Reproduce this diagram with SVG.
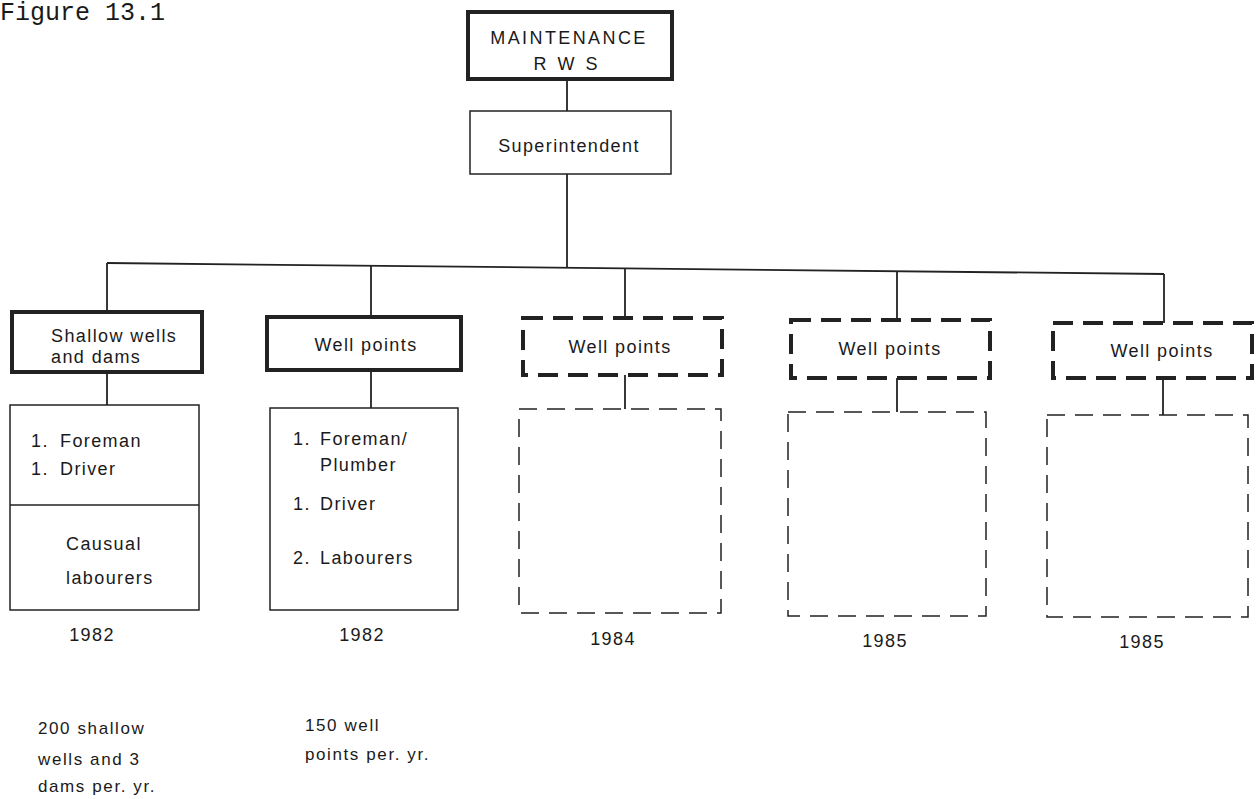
<svg xmlns="http://www.w3.org/2000/svg" width="1259" height="799" viewBox="0 0 1259 799">
<style>
.t{font-family:"Liberation Sans",Arial,sans-serif;font-size:18px;letter-spacing:1.4px;fill:#1a1a1a}
.s{font-family:"Liberation Sans",Arial,sans-serif;font-size:17px;letter-spacing:1.6px;fill:#1a1a1a}
.m{font-family:"Liberation Mono","Courier New",monospace;font-size:25px;fill:#1a1a1a}
.thick{fill:#fff;stroke:#222;stroke-width:4}
.thin{fill:#fff;stroke:#222;stroke-width:1.5}
.dthick{fill:#fff;stroke:#222;stroke-width:4;stroke-dasharray:20 10}
.dthin{fill:#fff;stroke:#222;stroke-width:1.5;stroke-dasharray:18 10}
.c{stroke:#222;stroke-width:1.8;fill:none}
</style>
<rect width="1259" height="799" fill="#fff"/>
<text class="m" x="0" y="20">Figure 13.1</text>
<g id="connectors">
<line class="c" x1="567" y1="79" x2="567" y2="111"/>
<line class="c" x1="567" y1="174" x2="567" y2="268"/>
<line class="c" x1="107" y1="263" x2="1164" y2="274"/>
<line class="c" x1="107" y1="263" x2="107" y2="312"/>
<line class="c" x1="371" y1="266" x2="371" y2="317"/>
<line class="c" x1="625" y1="268" x2="625" y2="318"/>
<line class="c" x1="897" y1="271" x2="897" y2="320"/>
<line class="c" x1="1164" y1="274" x2="1164" y2="323"/>
<line class="c" x1="107" y1="372" x2="107" y2="405"/>
<line class="c" x1="371" y1="370" x2="371" y2="408"/>
<line class="c" x1="625" y1="375" x2="625" y2="409"/>
<line class="c" x1="897" y1="378" x2="897" y2="412"/>
<line class="c" x1="1163" y1="378" x2="1163" y2="415"/>
</g>
<g id="maintenance">
<rect class="thick" x="468" y="12" width="204" height="67"/>
<text class="t" x="569" y="44" text-anchor="middle" style="letter-spacing:2.4px">MAINTENANCE</text>
<text class="t" x="567" y="70" text-anchor="middle" style="letter-spacing:3px">R W S</text>
</g>
<g id="superintendent">
<rect class="thin" x="470" y="111" width="201" height="63"/>
<text class="t" x="569" y="152" text-anchor="middle">Superintendent</text>
</g>
<g id="shallow">
<rect class="thick" x="12" y="312" width="190" height="60"/>
<text class="t" x="51" y="342">Shallow wells</text>
<text class="t" x="51" y="363">and dams</text>
</g>
<g id="shallow-staff">
<rect class="thin" x="10" y="405" width="189" height="205"/>
<line class="c" x1="10" y1="505" x2="199" y2="505" style="stroke-width:1.5"/>
<text class="t" x="31" y="447">1.</text><text class="t" x="60" y="447">Foreman</text>
<text class="t" x="31" y="475">1.</text><text class="t" x="60" y="475">Driver</text>
<text class="t" x="66" y="550">Causual</text>
<text class="t" x="66" y="584">labourers</text>
<text class="t" x="92" y="641" text-anchor="middle">1982</text>
</g>
<g id="wellpoints1">
<rect class="thick" x="267" y="317" width="194" height="53"/>
<text class="t" x="366" y="351" text-anchor="middle">Well points</text>
</g>
<g id="wellpoints1-staff">
<rect class="thin" x="270" y="408" width="188" height="202"/>
<text class="t" x="293" y="445">1.</text><text class="t" x="320" y="445">Foreman/</text>
<text class="t" x="320" y="471">Plumber</text>
<text class="t" x="293" y="510">1.</text><text class="t" x="320" y="510">Driver</text>
<text class="t" x="293" y="564">2.</text><text class="t" x="320" y="564">Labourers</text>
<text class="t" x="362" y="641" text-anchor="middle">1982</text>
</g>
<g id="wellpoints2">
<rect class="dthick" x="523" y="318" width="199" height="57"/>
<text class="t" x="620" y="353" text-anchor="middle">Well points</text>
</g>
<g id="wellpoints2-staff">
<rect class="dthin" x="519" y="409" width="202" height="204"/>
<text class="t" x="613" y="645" text-anchor="middle">1984</text>
</g>
<g id="wellpoints3">
<rect class="dthick" x="791" y="320" width="199" height="58"/>
<text class="t" x="890" y="355" text-anchor="middle">Well points</text>
</g>
<g id="wellpoints3-staff">
<rect class="dthin" x="788" y="412" width="198" height="204"/>
<text class="t" x="885" y="647" text-anchor="middle">1985</text>
</g>
<g id="wellpoints4">
<rect class="dthick" x="1053" y="323" width="199" height="55"/>
<text class="t" x="1162" y="357" text-anchor="middle">Well points</text>
</g>
<g id="wellpoints4-staff">
<rect class="dthin" x="1047" y="415" width="201" height="202"/>
<text class="t" x="1142" y="648" text-anchor="middle">1985</text>
</g>
<g id="notes">
<text class="s" x="38" y="734">200 shallow</text>
<text class="s" x="38" y="765">wells and 3</text>
<text class="s" x="38" y="792">dams per. yr.</text>
<text class="s" x="305" y="731">150 well</text>
<text class="s" x="305" y="760">points per. yr.</text>
</g>
</svg>
